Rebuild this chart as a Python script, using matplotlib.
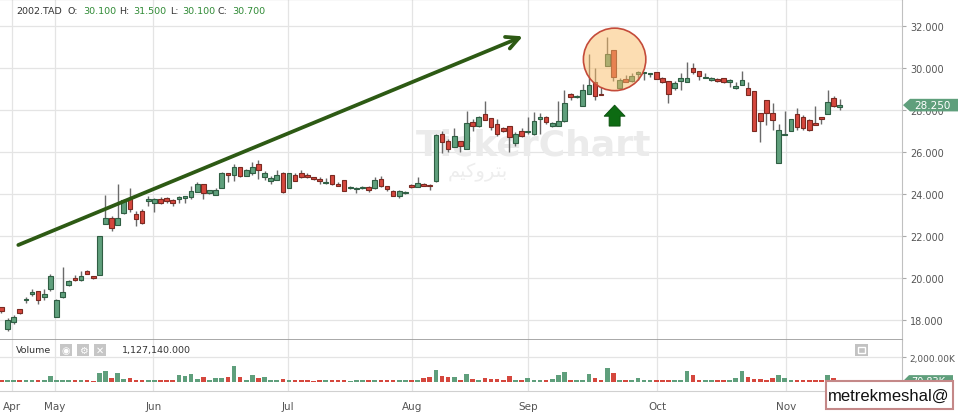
import matplotlib
matplotlib.use('Agg')
import matplotlib.pyplot as plt
import matplotlib.patches as mpatches
import matplotlib.transforms as mtransforms
import numpy as np

# daily candles, 2002.TAD (Apr - Nov)
opens = [18.60, 17.59, 17.90, 18.52, 18.94, 19.22, 19.38, 19.08, 19.49, 18.14,
         19.10, 19.65, 20.02, 19.90, 20.33, 20.08, 20.17, 22.59, 22.86, 22.51,
         23.10, 23.75, 23.05, 23.21, 23.70, 23.57, 23.78, 23.81, 23.73, 23.75,
         23.83, 23.89, 24.13, 24.49, 24.05, 23.97, 24.29, 25.00, 24.92, 25.29,
         24.89, 25.00, 25.44, 24.81, 24.65, 24.70, 25.00, 24.29, 24.92, 25.00,
         24.94, 24.81, 24.73, 24.52, 24.92, 24.49, 24.68, 24.29, 24.25, 24.29,
         24.33, 24.29, 24.73, 24.38, 24.17, 23.90, 24.05, 24.44, 24.33, 24.49,
         24.44, 24.65, 26.87, 26.56, 26.26, 26.56, 26.17, 27.43, 27.24, 27.83,
         27.62, 27.35, 27.14, 27.24, 26.43, 27.00, 26.95, 26.87, 27.59, 27.67,
         27.24, 27.27, 27.48, 28.76, 28.63, 28.20, 28.80, 29.36, 28.80, 30.10,
         30.88, 29.05, 29.48, 29.42, 29.72, 29.80, 29.72, 29.82, 29.53, 29.38,
         29.08, 29.40, 29.36, 30.03, 29.87, 29.53, 29.45, 29.50, 29.55, 29.34,
         29.06, 29.23, 29.06, 28.90, 27.89, 28.50, 27.89, 25.47, 26.81, 27.02,
         27.81, 27.69, 27.53, 27.42, 27.66, 27.81, 28.58, 28.18]
highs = [18.62, 18.10, 18.25, 18.52, 19.10, 19.49, 19.38, 19.49, 20.20, 19.02,
         20.52, 19.89, 20.13, 20.33, 20.37, 20.10, 22.00, 23.98, 22.98, 24.49,
         23.78, 24.29, 23.21, 23.30, 23.90, 23.81, 23.86, 23.86, 23.78, 23.90,
         23.94, 24.38, 24.57, 24.49, 24.22, 24.29, 25.05, 25.02, 25.44, 25.29,
         25.21, 25.56, 25.63, 25.13, 24.86, 25.17, 25.05, 25.00, 25.00, 25.16,
         25.02, 24.84, 24.81, 24.76, 24.92, 24.57, 24.70, 24.41, 24.33, 24.38,
         24.37, 24.81, 24.89, 24.41, 24.21, 24.21, 24.16, 24.49, 24.81, 24.54,
         24.49, 26.87, 27.03, 26.64, 27.18, 26.56, 27.95, 27.61, 27.72, 28.43,
         27.65, 27.59, 27.19, 27.24, 26.95, 27.16, 27.67, 27.90, 27.87, 27.71,
         27.44, 28.45, 28.97, 28.81, 28.75, 29.27, 30.68, 30.00, 29.12, 31.50,
         30.88, 29.53, 29.69, 29.80, 29.88, 29.85, 29.80, 29.85, 29.60, 29.38,
         29.38, 29.78, 30.30, 30.27, 29.87, 29.76, 29.60, 29.53, 29.55, 29.50,
         29.34, 29.87, 29.34, 28.90, 27.89, 28.50, 28.37, 27.37, 27.97, 27.61,
         28.13, 27.77, 27.61, 28.23, 27.69, 28.98, 28.69, 28.55]
lows = [18.35, 17.50, 17.83, 18.27, 18.83, 19.14, 18.78, 18.98, 19.41, 18.14,
        19.05, 19.62, 19.86, 19.87, 20.21, 19.97, 20.16, 22.59, 22.27, 22.51,
        23.06, 23.14, 22.48, 22.59, 23.43, 23.14, 23.54, 23.60, 23.46, 23.59,
        23.59, 23.78, 24.10, 23.78, 24.02, 23.97, 24.29, 24.57, 24.65, 24.81,
        24.86, 24.92, 24.73, 24.70, 24.49, 24.70, 24.06, 24.29, 24.65, 24.76,
        24.76, 24.70, 24.49, 24.49, 24.46, 24.41, 24.17, 24.25, 24.05, 24.25,
        24.10, 24.25, 24.33, 24.17, 23.94, 23.81, 24.02, 24.30, 24.33, 24.38,
        24.21, 24.57, 25.97, 26.00, 26.24, 26.03, 26.16, 27.03, 27.20, 27.52,
        27.08, 26.79, 26.98, 26.03, 26.32, 26.75, 26.87, 26.83, 26.87, 27.35,
        27.20, 27.27, 27.43, 28.51, 28.60, 28.19, 28.78, 28.50, 28.72, 30.10,
        29.40, 29.02, 29.34, 29.37, 29.45, 29.45, 29.60, 29.50, 29.29, 28.33,
        28.97, 28.96, 29.36, 29.74, 29.47, 29.53, 29.42, 29.37, 29.31, 29.10,
        29.03, 29.19, 28.71, 27.02, 26.48, 27.32, 27.05, 25.47, 26.81, 27.02,
        27.05, 27.05, 27.02, 27.29, 27.37, 27.81, 28.18, 28.02]
closes = [18.45, 17.98, 18.17, 18.32, 19.00, 19.33, 18.94, 19.24, 20.10, 18.98,
          19.33, 19.84, 19.89, 20.08, 20.22, 20.00, 22.00, 22.86, 22.41, 22.86,
          23.73, 23.30, 22.83, 22.62, 23.78, 23.78, 23.57, 23.70, 23.57, 23.86,
          23.90, 24.14, 24.49, 24.05, 24.19, 24.19, 25.00, 24.92, 25.29, 24.89,
          25.16, 25.29, 25.17, 25.00, 24.78, 24.92, 24.10, 25.00, 24.65, 24.81,
          24.81, 24.73, 24.62, 24.57, 24.49, 24.41, 24.17, 24.33, 24.29, 24.35,
          24.21, 24.68, 24.37, 24.25, 23.94, 24.17, 24.10, 24.33, 24.54, 24.41,
          24.37, 26.83, 26.48, 26.17, 26.77, 26.32, 27.38, 27.27, 27.67, 27.56,
          27.19, 26.87, 27.03, 26.75, 26.87, 26.79, 27.00, 27.48, 27.67, 27.43,
          27.40, 27.48, 28.36, 28.63, 28.70, 28.99, 29.23, 28.68, 28.75, 30.70,
          29.61, 29.45, 29.37, 29.64, 29.82, 29.85, 29.77, 29.50, 29.37, 28.80,
          29.30, 29.54, 29.54, 29.84, 29.63, 29.60, 29.55, 29.39, 29.34, 29.47,
          29.18, 29.44, 28.71, 27.02, 27.48, 27.89, 27.53, 27.08, 26.86, 27.61,
          27.21, 27.18, 27.05, 27.29, 27.58, 28.42, 28.23, 28.25]
# volume in thousands
volume = [160, 160, 170, 170, 170, 150, 170, 180, 460, 200,
          200, 170, 170, 180, 170, 60, 700, 870, 350, 700,
          220, 300, 200, 200, 180, 180, 170, 200, 200, 540,
          490, 620, 270, 400, 190, 350, 350, 400, 1300, 400,
          200, 540, 350, 430, 200, 200, 220, 200, 200, 200,
          190, 100, 130, 180, 180, 180, 190, 90, 160, 160,
          160, 170, 180, 180, 180, 180, 200, 200, 200, 300,
          400, 980, 490, 400, 400, 200, 620, 220, 200, 350,
          220, 220, 200, 490, 200, 200, 350, 200, 200, 200,
          220, 540, 820, 200, 200, 200, 620, 350, 200, 1120,
          700, 180, 180, 180, 300, 180, 180, 180, 180, 180,
          180, 180, 900, 570, 180, 180, 180, 180, 190, 200,
          350, 900, 430, 270, 270, 200, 350, 570, 350, 200,
          200, 200, 200, 200, 200, 570, 350, 200]

month_labels = ['Apr', 'May', 'Jun', 'Jul', 'Aug', 'Sep', 'Oct', 'Nov']
month_pos = [1.78, 8.76, 24.85, 46.83, 67.09, 86.04, 107.2, 128.2]
price_ticks = [18, 20, 22, 24, 26, 28, 30, 32]

last_price = 28.25
last_volume = 70.83

W, H = 958, 414
def fx(px):
    return px / W
def fy(py):
    return 1 - py / H

GREEN = '#5f9f7c'
GREEN_EDGE = '#2f5e43'
RED = '#d5473d'
RED_EDGE = '#7a2a22'
GRID = '#e4e4e4'

fig = plt.figure(figsize=(9.58, 4.14), dpi=100)
ax = fig.add_axes([0, fy(341), fx(902), 1 - fy(341)])
axv = fig.add_axes([0, fy(392), fx(902), fy(341) - fy(392)], sharex=ax)

o = np.array(opens); hi = np.array(highs); lo = np.array(lows); c = np.array(closes)
x = np.arange(len(o))
up = c >= o
fill = np.where(up, GREEN, RED)
edge = np.where(up, GREEN_EDGE, RED_EDGE)

ax.vlines(x, lo, hi, color='#6a6a6a', lw=1.0, zorder=2)
ax.bar(x, np.maximum(np.abs(c - o), 0.05), bottom=np.minimum(o, c), width=0.76,
       color=fill, edgecolor=edge, linewidth=0.8, zorder=3)

ax.set_xlim(-0.23, 147.16)
ax.set_ylim(17.05, 33.31)
ax.set_yticks(price_ticks)
ax.set_yticklabels([f'{v:.3f}' for v in price_ticks])
ax.yaxis.tick_right()
ax.tick_params(axis='y', length=3, color='#aaaaaa', labelsize=7, labelcolor='#555555', pad=3)
ax.set_xticks(month_pos)
ax.tick_params(axis='x', length=0, labelbottom=False)
ax.grid(True, color=GRID, lw=0.9, zorder=0)
ax.set_axisbelow(True)
ax.spines['left'].set_visible(False)
ax.spines['top'].set_color('#8a8a8a')
ax.spines['bottom'].set_color('#9a9a9a')
ax.spines['bottom'].set_linewidth(1.2)
ax.spines['right'].set_color('#c0c0c0')

# watermark
ax.text(fx(416), fy(145), 'TickerChart', transform=fig.transFigure, fontsize=26,
        fontweight='bold', color='#ebebeb', va='center', ha='left', zorder=1)
ax.text(fx(478), fy(172), '\uFEE2\uFEF4\uFEDB\uFEED\uFEAE\uFE98\uFE91',
        transform=fig.transFigure, fontsize=14, color='#ededed', va='center',
        ha='center', zorder=1)

# trend arrow
ax.annotate('', xy=(85.2, 31.53), xytext=(2.76, 21.58),
            arrowprops=dict(arrowstyle='->,head_length=0.9,head_width=0.45',
                            color='#2d5a14', lw=2.7, shrinkA=0, shrinkB=0), zorder=6)

# highlighted candle
ax.add_patch(mpatches.Ellipse((100.2, 30.43), 10.2, 2.98,
                              facecolor=(0.98, 0.74, 0.40, 0.50),
                              edgecolor='#c44b3a', lw=1.2, zorder=5))
ax.add_patch(mpatches.Polygon([(100.2, 28.25), (101.92, 27.72), (101.1, 27.72),
                               (101.1, 27.25), (99.3, 27.25), (99.3, 27.72),
                               (98.48, 27.72)], closed=True,
                              facecolor='#0d6b12', edgecolor='#0a4d0d', lw=0.6, zorder=5))

# last price tag
bt = mtransforms.blended_transform_factory(fig.transFigure, ax.transData)
tag = mpatches.Polygon([(fx(903), last_price), (fx(910), last_price + 0.3),
                        (fx(958), last_price + 0.3), (fx(958), last_price - 0.3),
                        (fx(910), last_price - 0.3)], closed=True, transform=bt,
                       facecolor=GREEN, edgecolor='none', clip_on=False, zorder=10)
ax.add_patch(tag)
ax.text(fx(932), last_price, f'{last_price:.3f}', transform=bt, color='white',
        fontsize=7.5, ha='center', va='center', clip_on=False, zorder=11)

# volume panel
axv.bar(x, volume, width=0.76, color=fill, zorder=2)
axv.set_ylim(-734, 3427)
axv.set_yticks([2000])
axv.set_yticklabels(['2,000.00K'])
axv.yaxis.tick_right()
axv.tick_params(axis='y', length=3, color='#aaaaaa', labelsize=6.5, labelcolor='#555555', pad=2)
axv.set_xticks(month_pos)
axv.set_xticklabels(month_labels)
axv.tick_params(axis='x', length=0, labelsize=7.5, labelcolor='#555555', pad=7)
axv.grid(True, color=GRID, lw=0.9, zorder=0)
axv.set_axisbelow(True)
axv.spines['left'].set_visible(False)
axv.spines['top'].set_visible(False)
axv.spines['bottom'].set_color('#d0d0d0')
axv.spines['right'].set_color('#c0c0c0')

btv = mtransforms.blended_transform_factory(fig.transFigure, axv.transData)
axv.add_patch(mpatches.Polygon([(fx(903), last_volume), (fx(909), last_volume + 490),
                                (fx(953), last_volume + 490), (fx(953), last_volume - 490),
                                (fx(909), last_volume - 490)], closed=True, transform=btv,
                               facecolor=GREEN, edgecolor='none', clip_on=False, zorder=10))
axv.text(fx(928), last_volume, f'{last_volume:.2f}K', transform=btv, color='white',
         fontsize=7, ha='center', va='center', clip_on=False, zorder=11)

# header texts
fig.text(fx(16), fy(11), '2002.TAD', fontsize=6.8, color='#333333', va='center')
hdr = [('O:', 68, 'k'), ('30.100', 83, 'g'), ('H:', 119, 'k'), ('31.500', 133, 'g'),
       ('L:', 170, 'k'), ('30.100', 182, 'g'), ('C:', 218, 'k'), ('30.700', 232, 'g')]
for t, px, col in hdr:
    fig.text(fx(px), fy(11), t, fontsize=6.8, va='center',
             color='#333333' if col == 'k' else '#2e8a34')

fig.text(fx(16), fy(351), 'Volume', fontsize=6.8, color='#333333', va='center')
for px, sym in [(60, '\u25C9'), (77, '\u2699'), (94, '\u2715')]:
    fig.patches.append(mpatches.Rectangle((fx(px), fy(357)), fx(12), fy(345) - fy(357),
                                          transform=fig.transFigure, facecolor='#c6c6c6',
                                          edgecolor='none'))
    fig.text(fx(px + 6), fy(351), sym, fontsize=7, color='white', ha='center', va='center')
fig.text(fx(122), fy(351), '1,127,140.000', fontsize=6.8, color='#333333', va='center')
fig.patches.append(mpatches.Rectangle((fx(855), fy(357)), fx(13), fy(345) - fy(357),
                                      transform=fig.transFigure, facecolor='#c2c2c2',
                                      edgecolor='none'))
fig.patches.append(mpatches.Rectangle((fx(858), fy(354)), fx(7), fy(348) - fy(354),
                                      transform=fig.transFigure, facecolor='none',
                                      edgecolor='white', lw=1))

# signature box
fig.patches.append(mpatches.Rectangle((fx(826), fy(410)), fx(127), fy(382) - fy(410),
                                      transform=fig.transFigure, facecolor='white',
                                      edgecolor='#c48888', lw=1.5, zorder=20))
fig.text(fx(889), fy(396), 'metrekmeshal@', fontsize=12, family='Liberation Sans',
         color='#111111', ha='center', va='center', zorder=21)

fig.savefig('out.png', dpi=100)
